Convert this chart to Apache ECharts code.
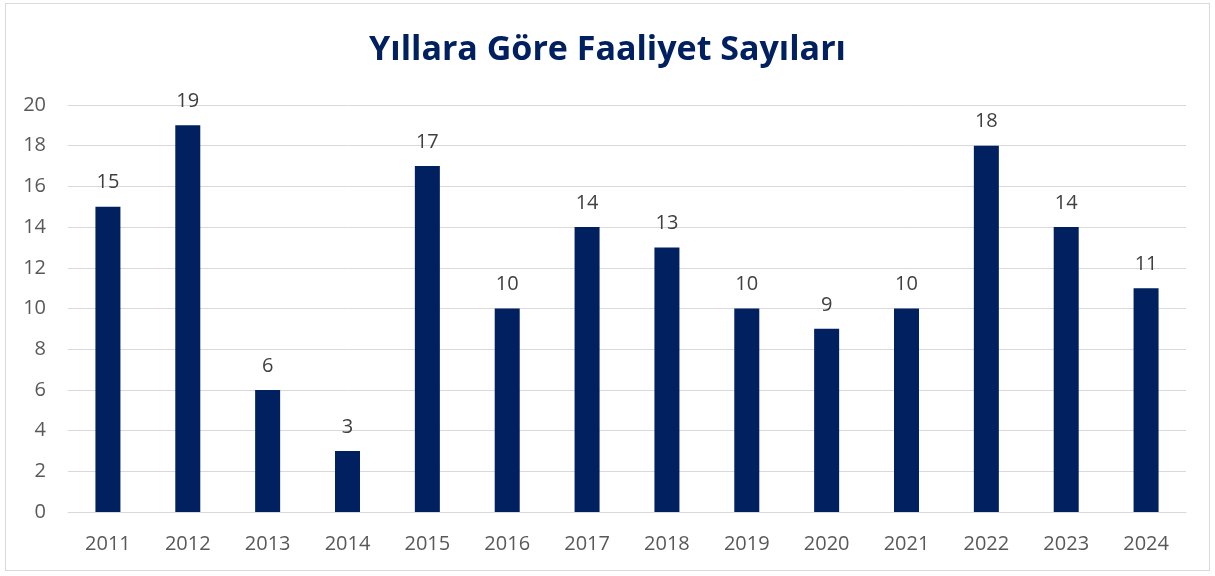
<!DOCTYPE html>
<html>
<head>
<meta charset="utf-8">
<script src="https://cdn.jsdelivr.net/npm/echarts@6/dist/echarts.min.js"></script>
<style>
  html, body { margin: 0; padding: 0; background: #fff; }
  #chart { width: 1215px; height: 576px; }
  .frame { position: absolute; left: 5px; top: 3px; width: 1205px; height: 568px; border: 1px solid #d9d9d9; box-sizing: border-box; pointer-events: none; }
</style>
</head>
<body>
<div id="chart"></div>
<div class="frame"></div>
<script>
const years = ['2011', '2012', '2013', '2014', '2015', '2016', '2017', '2018', '2019', '2020', '2021', '2022', '2023', '2024'];
const counts = [15, 19, 6, 3, 17, 10, 14, 13, 10, 9, 10, 18, 14, 11];
const titleText = 'Yıllara Göre Faaliyet Sayıları';

const font = 'Open Sans';
const chart = echarts.init(document.getElementById('chart'), null, { renderer: 'canvas' });

chart.setOption({
  backgroundColor: '#ffffff',
  animation: false,
  title: {
    text: titleText,
    left: 'center',
    top: 28,
    textStyle: { color: '#002060', fontSize: 34, fontWeight: 'bold', fontFamily: font }
  },
  grid: { left: 68, right: 29, top: 105, bottom: 64, containLabel: false },
  xAxis: {
    type: 'category',
    data: years,
    axisLine: { lineStyle: { color: '#d9d9d9', width: 1 } },
    axisTick: { show: false },
    axisLabel: { color: '#595959', fontSize: 20, fontFamily: font, margin: 22 }
  },
  yAxis: {
    type: 'value',
    min: 0,
    max: 20,
    interval: 2,
    axisLine: { show: false },
    axisTick: { show: false },
    axisLabel: { color: '#595959', fontSize: 20, fontFamily: font, margin: 22 },
    splitLine: { lineStyle: { color: '#d9d9d9', width: 1 } }
  },
  series: [{
    type: 'bar',
    data: counts,
    barWidth: 25,
    itemStyle: { color: '#002060' },
    label: {
      show: true,
      position: 'top',
      distance: 14,
      color: '#404040',
      fontSize: 20,
      fontFamily: font
    }
  }]
});
</script>
</body>
</html>
